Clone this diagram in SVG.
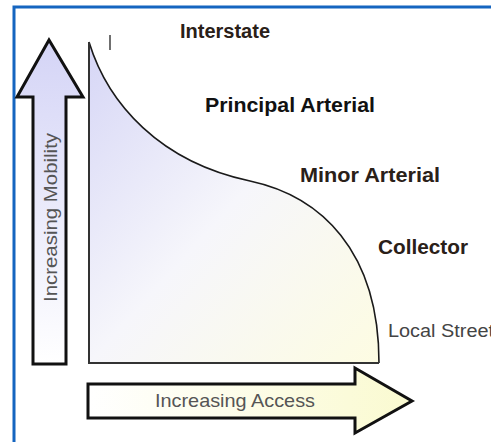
<svg xmlns="http://www.w3.org/2000/svg" width="491" height="442" viewBox="0 0 491 442">
<defs>
<linearGradient id="gUp" x1="0" y1="0" x2="0" y2="1">
<stop offset="0" stop-color="#d4d4f6"/>
<stop offset="1" stop-color="#ffffff"/>
</linearGradient>
<linearGradient id="gRight" x1="0" y1="0" x2="1" y2="0">
<stop offset="0" stop-color="#ffffff"/>
<stop offset="1" stop-color="#fafad0"/>
</linearGradient>
<linearGradient id="gChart" x1="0" y1="0" x2="1" y2="1">
<stop offset="0" stop-color="#d6d6f6"/>
<stop offset="0.5" stop-color="#f6f6fb"/>
<stop offset="1" stop-color="#fdfce2"/>
</linearGradient>
</defs>
<style>
.arrow{stroke:#111;stroke-width:3;stroke-linejoin:miter}
.lbl{font-family:"Liberation Sans",Arial,sans-serif;font-weight:bold;fill:#2a2018}
.reg{font-family:"Liberation Sans",Arial,sans-serif;fill:#555}
</style>
<rect width="491" height="442" fill="#ffffff"/>
<g id="frame" fill="none" stroke="#1565c0" stroke-width="3">
<path d="M14,442 L14,7 L491,7"/>
</g>
<g id="chart">
<path d="M89,42 C108,104 160,162 250,181 C320,196 379,250 379,363 L89,363 Z" fill="url(#gChart)" stroke="none"/>
<path d="M89,42 C108,104 160,162 250,181 C320,196 379,250 379,363" fill="none" stroke="#1a1a1a" stroke-width="1.6"/>
<path d="M89,42 L89,363 L379,363" fill="none" stroke="#333" stroke-width="2"/>
<line x1="110" y1="35" x2="110" y2="50" stroke="#222" stroke-width="1.3"/>
</g>
<g id="mobility">
<polygon class="arrow" points="49,40 17,97 33,97 33,364 66,364 66,97 83,97" fill="url(#gUp)"/>
<text class="reg" font-size="18" text-anchor="middle" textLength="169" lengthAdjust="spacingAndGlyphs" transform="translate(57,217.5) rotate(-90)">Increasing Mobility</text>
</g>
<g id="access">
<polygon class="arrow" points="88,384 355,384 355,368 412,401 355,433 355,418 88,418" fill="url(#gRight)"/>
<text class="reg" x="155" y="407" font-size="18.5" textLength="160" lengthAdjust="spacingAndGlyphs">Increasing Access</text>
</g>
<g id="interstate">
<text class="lbl" x="180" y="38" font-size="20" textLength="90" lengthAdjust="spacingAndGlyphs">Interstate</text>
</g>
<g id="principal">
<text class="lbl" x="205" y="112" font-size="19.5" textLength="170" lengthAdjust="spacingAndGlyphs" style="fill:#111">Principal Arterial</text>
</g>
<g id="minor">
<text class="lbl" x="300" y="182" font-size="20" textLength="140" lengthAdjust="spacingAndGlyphs">Minor Arterial</text>
</g>
<g id="collector">
<text class="lbl" x="378" y="254" font-size="20" textLength="90" lengthAdjust="spacingAndGlyphs">Collector</text>
</g>
<g id="local">
<text class="reg" x="388" y="337" font-size="17.5" textLength="106" lengthAdjust="spacingAndGlyphs" style="fill:#444">Local Street</text>
</g>
</svg>
